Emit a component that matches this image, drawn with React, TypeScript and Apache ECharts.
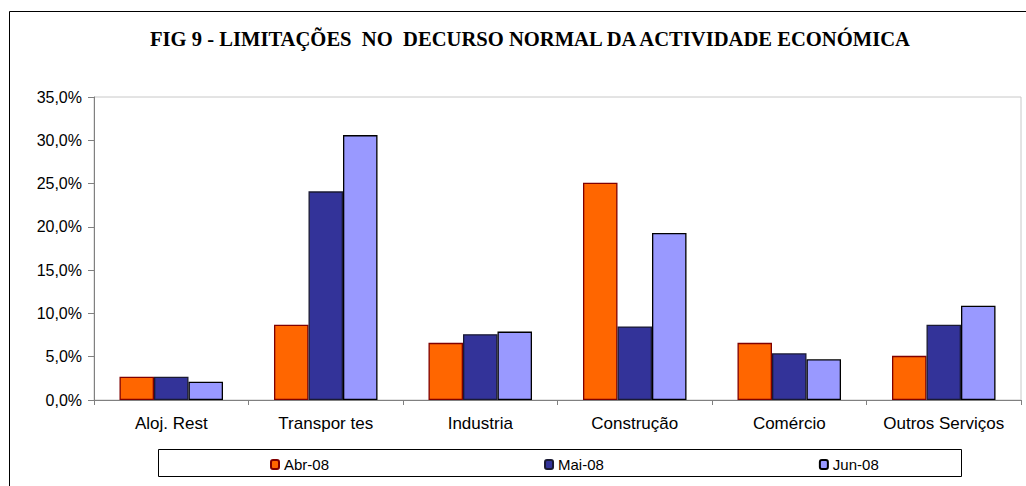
import React, { useEffect, useRef } from "react";
import * as echarts from "echarts";

const categories = ["Aloj. Rest", "Transpor tes", "Industria", "Construção", "Comércio", "Outros Serviços"];
const seriesNames = ["Abr-08", "Mai-08", "Jun-08"];
const abr08 = [2.7, 8.7, 6.6, 25.1, 6.6, 5.1];
const mai08 = [2.7, 24.1, 7.6, 8.5, 5.4, 8.7];
const jun08 = [2.1, 30.6, 7.9, 19.3, 4.7, 10.9];
const seriesValues = [abr08, mai08, jun08];
const fillColors = ["#FF6600", "#333399", "#9999FF"];
const borderColors = ["#800000", "#1a1a33", "#000000"];
const titleText = "FIG 9 - LIMITAÇÕES  NO  DECURSO NORMAL DA ACTIVIDADE ECONÓMICA";

export default function App() {
  const ref = useRef<HTMLDivElement>(null);
  useEffect(() => {
    if (!ref.current) return;
    const chart = echarts.init(ref.current, null, { renderer: "svg" });
    const sans = "'Liberation Sans', Arial, sans-serif";
    chart.setOption({
      animation: false,
      backgroundColor: "#ffffff",
      title: {
        text: titleText,
        left: 145,
        top: 23,
        textStyle: {
          fontFamily: "'Liberation Serif', 'Times New Roman', serif",
          fontWeight: "bold",
          fontSize: 20.6,
          color: "#000000",
        },
      },
      graphic: [
        {
          type: "rect",
          shape: { x: 9.5, y: 11.5, width: 1040, height: 500 },
          style: { fill: "none", stroke: "#000000", lineWidth: 1 },
          silent: true,
        },
        {
          type: "rect",
          shape: { x: 158.5, y: 449.5, width: 803, height: 27 },
          style: { fill: "#ffffff", stroke: "#000000", lineWidth: 1 },
          z: 1,
          silent: true,
        },
      ],
      legend: {
        data: seriesNames,
        left: 265,
        top: 452,
        itemWidth: 8,
        itemHeight: 9,
        itemGap: 215,
        z: 5,
        textStyle: { fontFamily: sans, fontSize: 15, color: "#000000" },
      },
      grid: {
        left: 94,
        right: 5,
        top: 97,
        bottom: 86,
        show: true,
        borderColor: "#c8c8c8",
        borderWidth: 1,
        backgroundColor: "transparent",
      },
      xAxis: {
        type: "category",
        data: categories,
        axisLine: { show: true, lineStyle: { color: "#808080", width: 1 } },
        axisTick: { show: true, length: 5, lineStyle: { color: "#808080" } },
        axisLabel: { fontFamily: sans, fontSize: 17, color: "#000000", margin: 15, interval: 0 },
      },
      yAxis: {
        type: "value",
        min: 0,
        max: 35,
        interval: 5,
        axisLine: { show: true, lineStyle: { color: "#808080", width: 1 } },
        axisTick: { show: true, length: 6, lineStyle: { color: "#808080" } },
        splitLine: { show: false },
        axisLabel: {
          fontFamily: sans,
          fontSize: 16,
          color: "#000000",
          margin: 12,
          formatter: (v: number) => v.toFixed(1).replace(".", ",") + "%",
        },
      },
      series: seriesNames.map((name, i) => ({
        name,
        type: "bar",
        data: seriesValues[i],
        barGap: "0%",
        barCategoryGap: "33%",
        itemStyle: { color: fillColors[i], borderColor: borderColors[i], borderWidth: 1.3 },
      })),
    });
    return () => chart.dispose();
  }, []);
  return (
    <div
      ref={ref}
      style={{ position: "fixed", left: 0, top: 0, width: 1026, height: 486 }}
    />
  );
}
